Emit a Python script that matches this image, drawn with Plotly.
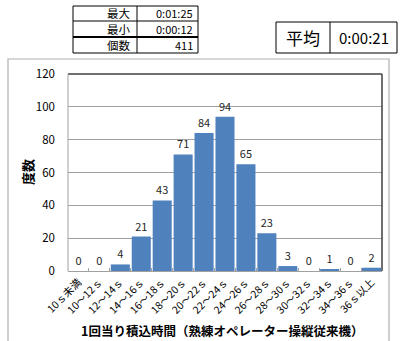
import plotly.graph_objects as go

# Histogram of loading time per cycle
categories = ["10ｓ未満", "10～12ｓ", "12～14ｓ", "14～16ｓ", "16～18ｓ", "18～20ｓ",
              "20～22ｓ", "22～24ｓ", "24～26ｓ", "26～28ｓ", "28～30ｓ", "30～32ｓ",
              "32～34ｓ", "34～36ｓ", "36ｓ以上"]
counts = [0, 0, 4, 21, 43, 71, 84, 94, 65, 23, 3, 0, 1, 0, 2]

stat_labels = ["最大", "最小", "個数"]
stat_values = ["0:01:25", "0:00:12", "411"]
mean_label = "平均"
mean_value = "0:00:21"

W, H = 401, 341
FONT = "Noto Sans CJK JP, Noto Sans, sans-serif"


def px(x):
    return x / W


def py(y):
    return 1 - y / H


fig = go.Figure()
fig.add_trace(go.Bar(
    x=categories, y=counts,
    marker=dict(color="#4F81BD", line=dict(width=0)),
    text=[str(v) for v in counts], textposition="outside",
    textfont=dict(size=11, color="#262626", family=FONT),
    cliponaxis=False,
))

shapes = []
# outer chart frame
shapes.append(dict(type="rect", xref="paper", yref="paper",
                   x0=px(8), x1=px(389), y0=py(345), y1=py(59),
                   line=dict(color="#B0B0B0", width=1.2)))
# plot area border: dark top and right edges, grey left edge
shapes.append(dict(type="line", xref="paper", yref="paper",
                   x0=px(68), x1=px(382), y0=py(74), y1=py(74),
                   line=dict(color="#404040", width=1.5)))
shapes.append(dict(type="line", xref="paper", yref="paper",
                   x0=px(382), x1=px(382), y0=py(74), y1=py(271),
                   line=dict(color="#404040", width=1.5)))
shapes.append(dict(type="line", xref="paper", yref="paper",
                   x0=px(68), x1=px(68), y0=py(74), y1=py(271),
                   line=dict(color="#A0A0A0", width=1)))

# statistics table
tx0, tx1, tx2 = 73, 137, 198
row_y = [6, 21, 37, 53]
shapes.append(dict(type="rect", xref="paper", yref="paper",
                   x0=px(tx0), x1=px(tx2), y0=py(row_y[-1]), y1=py(row_y[0]),
                   line=dict(color="#000000", width=1)))
shapes.append(dict(type="line", xref="paper", yref="paper",
                   x0=px(tx1), x1=px(tx1), y0=py(row_y[-1]), y1=py(row_y[0]),
                   line=dict(color="#000000", width=1)))
shapes.append(dict(type="line", xref="paper", yref="paper",
                   x0=px(tx0), x1=px(tx2), y0=py(row_y[1]), y1=py(row_y[1]),
                   line=dict(color="#000000", width=1)))
shapes.append(dict(type="line", xref="paper", yref="paper",
                   x0=px(tx0), x1=px(tx2), y0=py(row_y[2]), y1=py(row_y[2]),
                   line=dict(color="#000000", width=2)))

# mean box
mx0, mx1, mx2 = 276, 330, 397
my0, my1 = 22, 53
shapes.append(dict(type="rect", xref="paper", yref="paper",
                   x0=px(mx0), x1=px(mx2), y0=py(my1), y1=py(my0),
                   line=dict(color="#000000", width=1)))
shapes.append(dict(type="line", xref="paper", yref="paper",
                   x0=px(mx1), x1=px(mx1), y0=py(my1), y1=py(my0),
                   line=dict(color="#000000", width=1)))

annotations = []
for i, (lab, val) in enumerate(zip(stat_labels, stat_values)):
    yc = (row_y[i] + row_y[i + 1]) / 2
    annotations.append(dict(x=px(tx1 - 4), y=py(yc), xref="paper", yref="paper",
                            text=lab, showarrow=False, xanchor="right", yanchor="middle",
                            font=dict(size=11.5, color="#000000", family=FONT)))
    annotations.append(dict(x=px(tx2 - 3), y=py(yc), xref="paper", yref="paper",
                            text=val, showarrow=False, xanchor="right", yanchor="middle",
                            font=dict(size=11, color="#000000", family=FONT)))

annotations.append(dict(x=px((mx0 + mx1) / 2), y=py((my0 + my1) / 2), xref="paper", yref="paper",
                        text=mean_label, showarrow=False, xanchor="center", yanchor="middle",
                        font=dict(size=17, color="#000000", family=FONT)))
annotations.append(dict(x=px((mx1 + mx2) / 2), y=py((my0 + my1) / 2), xref="paper", yref="paper",
                        text=mean_value, showarrow=False, xanchor="center", yanchor="middle",
                        font=dict(size=15, color="#000000", family=FONT)))

# axis titles
annotations.append(dict(x=px(27), y=py(172), xref="paper", yref="paper",
                        text="<b>度数</b>", showarrow=False, textangle=-90,
                        xanchor="center", yanchor="middle",
                        font=dict(size=13, color="#000000", family=FONT)))
annotations.append(dict(x=px(222), y=py(330), xref="paper", yref="paper",
                        text="<b>1回当り積込時間（熟練オペレーター操縦従来機）</b>", showarrow=False,
                        xanchor="center", yanchor="middle",
                        font=dict(size=12.5, color="#000000", family=FONT)))

fig.update_layout(
    width=W, height=H,
    margin=dict(l=0, r=0, t=0, b=0),
    paper_bgcolor="white", plot_bgcolor="white",
    showlegend=False,
    bargap=0.09,
    shapes=shapes,
    annotations=annotations,
    xaxis=dict(domain=[px(68), px(382)], tickangle=-45, automargin=False,
               tickfont=dict(size=10.5, color="#000000", family=FONT),
               showline=True, linecolor="#A0A0A0", linewidth=1,
               ticks="inside", tickson="boundaries", ticklen=3, tickcolor="#A0A0A0",
               showgrid=False, fixedrange=True),
    yaxis=dict(domain=[py(271), py(74)], range=[0, 120], dtick=20, automargin=False,
               tickfont=dict(size=11.5, color="#000000", family=FONT),
               showgrid=True, gridcolor="#A0A0A0", gridwidth=1,
               zeroline=False, showline=False, ticks="",
               ticklabelstandoff=12, fixedrange=True),
)

fig.write_html("out.html")
